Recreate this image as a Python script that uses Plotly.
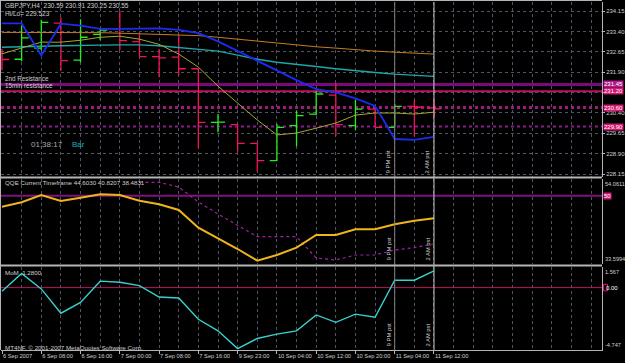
import plotly.graph_objects as go

# ---------------- data ----------------
bars = list(range(23))
xlabel_idx = [0, 2, 4, 6, 8, 10, 12, 14, 16, 18, 20, 22]
xlabel_txt = ["6 Sep 2007", "6 Sep 08:00", "6 Sep 16:00", "7 Sep 00:00", "7 Sep 08:00",
              "7 Sep 16:00", "9 Sep 23:00", "10 Sep 04:00", "10 Sep 12:00", "10 Sep 20:00",
              "11 Sep 04:00", "11 Sep 12:00"]

opens = [232.60, 232.38, 232.79, 233.71, 232.35, 233.30, 233.50, 233.03, 232.48, 232.46, 232.03,
         230.05, 229.97, 229.28, 228.64, 229.93, 230.36, 231.06, 229.93, 230.54, 229.87, 230.64, 230.59]
highs = [232.76, 233.63, 233.83, 233.93, 233.85, 233.52, 234.17, 233.29, 232.76, 233.26, 232.05,
         230.36, 229.99, 229.29, 229.99, 230.48, 231.21, 231.50, 230.89, 230.58, 230.73, 230.88, 230.91]
lows = [231.97, 232.31, 232.71, 231.96, 232.27, 233.08, 232.72, 232.48, 231.72, 231.79, 229.11,
        229.69, 228.97, 228.24, 228.63, 229.17, 230.32, 229.54, 229.78, 229.87, 229.87, 229.54, 230.25]
closes = [232.37, 233.17, 233.74, 232.33, 233.19, 233.45, 233.07, 232.48, 232.43, 232.03, 230.05,
          230.06, 229.28, 228.64, 229.87, 230.30, 231.10, 229.97, 230.54, 229.87, 230.64, 230.61, 230.55]

ma_blue = [233.70, 233.70, 232.52, 233.69, 233.62, 233.50, 233.50, 233.52, 233.52, 233.46, 233.34,
           233.04, 232.68, 232.31, 231.94, 231.61, 231.28, 231.16, 230.94, 230.66, 229.44, 229.41, 229.52]
ma_orange = [233.37, 233.37, 233.37, 233.37, 233.36, 233.36, 233.34, 233.32, 233.31, 233.28, 233.25,
             233.19, 233.12, 233.04, 232.97, 232.90, 232.84, 232.79, 232.73, 232.68, 232.64, 232.60, 232.57]
ma_teal = [232.82, 232.83, 232.86, 232.88, 232.90, 232.90, 232.91, 232.91, 232.88, 232.82, 232.75,
           232.68, 232.53, 232.38, 232.27, 232.20, 232.11, 232.03, 231.95, 231.89, 231.83, 231.78, 231.75]
ma_olive = [232.58, 232.79, 233.01, 233.01, 233.08, 233.19, 233.23, 233.12, 232.93, 232.57, 232.09,
            231.39, 230.76, 230.14, 229.59, 229.66, 229.84, 230.03, 230.32, 230.40, 230.40, 230.36, 230.43]

price_ticks = [234.15, 233.40, 232.65, 231.90, 231.15, 230.40, 229.65, 228.90, 228.15]
price_ticktext = ["234.15", "233.40", "232.65", "231.90", "", "230.40", "229.65", "228.90", "228.15"]
levels = [231.45, 231.20, 230.60, 229.90]
level_names = ["2nd Resistance", "15min resistance", "", ""]
level_colors = ["#7a0a7a", "#c01060", "#a01880", "#8c1a8c"]
level_widths = [3, 2, 3, 2]
level_dash = ["solid", "solid", "dot", "dot"]
level_box = ["#b0188a", "#d01870", "#d01870", "#d01870"]

qqe_main = [47.39, 48.45, 50.21, 48.77, 49.56, 50.38, 50.21, 48.84, 47.97, 46.60, 42.34,
            39.79, 37.21, 34.40, 35.77, 37.53, 40.58, 40.58, 41.95, 41.95, 43.16, 44.02, 44.60]
qqe_trail = [None, None, None, None, None, None, None, 53.27, 53.27, 52.13, 48.52,
             45.64, 42.87, 40.17, 40.17, 40.17, 35.05, 34.57, 35.77, 35.77, 36.97, 37.53, 38.48]
qqe_range = [33.5994, 54.0611]
qqe_level = 50

mom = [-0.28, 1.08, -0.10, -1.95, -1.13, 0.49, 0.41, 0.15, -0.72, -0.79, -2.41,
       -3.29, -4.64, -3.87, -3.54, -3.29, -2.08, -2.64, -2.02, -2.26, 0.56, 0.56, 1.28]
mom_range = [-4.747, 1.567]
mom_level = 0

vlines = [(20, "9 PM pst", "#808080"), (22, "2 AM pst", "#c8c8c8")]

# ---------------- layout helpers ----------------
W, H = 625, 363
def px(x): return x / W
def py(y): return 1 - y / H

main_dom = [py(177), py(2)]
qqe_dom = [py(264), py(179)]
mom_dom = [py(350), py(267)]
x_dom = [px(1), px(602)]
xr = [-0.051, 30.556]

FONT = "Liberation Sans, Arial, sans-serif"
TXT = "#d0d0d0"
GRID = "#4e5466"
AX = 6
AXS = 5.6

fig = go.Figure()

fig.add_trace(go.Scatter(x=bars, y=ma_orange, mode="lines", line=dict(color="#c87a22", width=1),
                         xaxis="x", yaxis="y", hoverinfo="skip"))
fig.add_trace(go.Scatter(x=bars, y=ma_teal, mode="lines", line=dict(color="#1fa6a8", width=1.4),
                         xaxis="x", yaxis="y", hoverinfo="skip"))
fig.add_trace(go.Scatter(x=bars, y=ma_olive, mode="lines", line=dict(color="#a8a630", width=1),
                         xaxis="x", yaxis="y", hoverinfo="skip"))
fig.add_trace(go.Ohlc(x=bars, open=opens, high=highs, low=lows, close=closes,
                      increasing=dict(line=dict(color="#22ee22", width=1.3)),
                      decreasing=dict(line=dict(color="#f01458", width=1.3)),
                      tickwidth=0.36, xaxis="x", yaxis="y"))
fig.add_trace(go.Scatter(x=bars, y=ma_blue, mode="lines", line=dict(color="#1a2cf0", width=1.8),
                         xaxis="x", yaxis="y", hoverinfo="skip"))

fig.add_trace(go.Scatter(x=bars, y=qqe_trail, mode="lines", line=dict(color="#a41ea4", width=1.2, dash="dot"),
                         xaxis="x", yaxis="y2", hoverinfo="skip"))
fig.add_trace(go.Scatter(x=bars, y=qqe_main, mode="lines", line=dict(color="#f0b41c", width=2),
                         xaxis="x", yaxis="y2", hoverinfo="skip"))
fig.add_trace(go.Scatter(x=bars, y=mom, mode="lines", line=dict(color="#3ad0cc", width=1.4),
                         xaxis="x", yaxis="y3", hoverinfo="skip"))

shapes = []
annotations = []

# horizontal levels (main)
for lv, nm, c, w, d, bc in zip(levels, level_names, level_colors, level_widths, level_dash, level_box):
    shapes.append(dict(type="line", xref="x domain", yref="y", x0=0, x1=1, y0=lv, y1=lv,
                       line=dict(color=c, width=w, dash=d), layer="below"))
    if nm:
        annotations.append(dict(text=nm, xref="paper", yref="y", x=px(3), y=lv, xanchor="left",
                                yanchor="bottom", yshift=0, showarrow=False,
                                font=dict(size=6.3, color=TXT, family=FONT)))
    annotations.append(dict(text=f"{lv:.2f}", xref="paper", yref="y", x=px(603), y=lv, xanchor="left",
                            yanchor="middle", showarrow=False, bgcolor=bc, borderpad=0,
                            font=dict(size=AX, color="#ffffff", family=FONT)))

# QQE 50 level
shapes.append(dict(type="line", xref="x domain", yref="y2", x0=0, x1=1, y0=qqe_level, y1=qqe_level,
                   line=dict(color="#80107e", width=2), layer="below"))
annotations.append(dict(text=str(qqe_level), xref="paper", yref="y2", x=px(603), y=qqe_level, xanchor="left",
                        yanchor="middle", showarrow=False, bgcolor="#d01870", borderpad=0,
                        font=dict(size=AX, color="#ffffff", family=FONT)))
# MoM 0 level
shapes.append(dict(type="line", xref="x domain", yref="y3", x0=0, x1=1, y0=mom_level, y1=mom_level,
                   line=dict(color="#c0105a", width=1), layer="below"))
annotations.append(dict(text="0.00", xref="paper", yref="y3", x=px(604), y=mom_level, xanchor="left",
                        yanchor="middle", showarrow=False,
                        font=dict(size=AX, color="#ffffff", family=FONT)))
shapes.append(dict(type="rect", xref="paper", yref="y3", x0=px(603.5), x1=px(607.5),
                   y0=mom_level - 0.25, y1=mom_level + 0.25, line=dict(color="#e01870", width=1)))

# panel scale labels (QQE / MoM)
for yref, rng in (("y2", qqe_range), ("y3", mom_range)):
    fmt = "{:.4f}" if yref == "y2" else "{:.3f}"
    annotations.append(dict(text=fmt.format(rng[1]), xref="paper", yref=yref + " domain", x=px(603), y=1,
                            xanchor="left", yanchor="top", showarrow=False,
                            font=dict(size=AXS, color=TXT, family=FONT)))
    annotations.append(dict(text=fmt.format(rng[0]), xref="paper", yref=yref + " domain", x=px(603), y=0,
                            xanchor="left", yanchor="bottom", showarrow=False,
                            font=dict(size=AXS, color=TXT, family=FONT)))

# vertical event lines
for xi, lab, col in vlines:
    shapes.append(dict(type="line", xref="x", yref="paper", x0=xi, x1=xi, y0=mom_dom[0], y1=main_dom[1],
                       line=dict(color=col, width=1)))
    for yr in ("y", "y2", "y3"):
        annotations.append(dict(text=lab, xref="x", yref=yr + " domain", x=xi, y=0, xanchor="right",
                                yanchor="bottom", xshift=-1, yshift=2, textangle=-90, showarrow=False,
                                font=dict(size=5.8, color=TXT, family=FONT)))

# frame / separators
frame_col = "#b4b4b4"
for yy in (177.5, 265.5):
    shapes.append(dict(type="line", xref="paper", yref="paper", x0=0, x1=px(602), y0=py(yy), y1=py(yy),
                       line=dict(color=frame_col, width=2)))
shapes.append(dict(type="line", xref="paper", yref="paper", x0=0, x1=px(602), y0=py(0.5), y1=py(0.5),
                   line=dict(color=frame_col, width=1)))
shapes.append(dict(type="line", xref="paper", yref="paper", x0=px(0.5), x1=px(0.5), y0=py(350), y1=py(0),
                   line=dict(color=frame_col, width=1)))

# texts
def txt(s, x, y, size=6.5, color=TXT):
    annotations.append(dict(text=s, xref="paper", yref="paper", x=px(x), y=py(y), xanchor="left",
                            yanchor="middle", showarrow=False, font=dict(size=size, color=color, family=FONT)))

txt("GBPJPY,H4  230.59 230.91 230.25 230.55", 3, 5)
txt("Hi/Lo= 229.523", 3, 13)
txt("01:38:17", 29, 144, size=8, color="#a8a8a8")
txt("Bar", 70, 144, size=8, color="#10b8c0")
txt("QQE Current Timeframe 44.6030 40.8207 38.4831", 3, 182.5, size=6.2)
txt("MoM  1.2800", 3, 272.5, size=6.2)
txt("MT4NF, © 2001-2007 MetaQuotes Software Corp.", 3, 347, size=6.2)

fig.update_layout(
    width=W, height=H, margin=dict(l=0, r=0, t=0, b=0),
    paper_bgcolor="#000000", plot_bgcolor="#000000", showlegend=False,
    font=dict(family=FONT, size=6.5, color=TXT),
    xaxis=dict(domain=x_dom, range=xr, anchor="y3", tickvals=xlabel_idx, ticktext=xlabel_txt,
               tickangle=0, ticks="outside", ticklen=3, tickcolor=frame_col, ticklabelposition="outside right",
               tickfont=dict(size=5.7, color=TXT, family=FONT),
               showgrid=True, gridcolor=GRID, griddash="3px,3px", gridwidth=1,
               minor=dict(dtick=1, tick0=0, showgrid=True, gridcolor=GRID, griddash="3px,3px", ticks=""),
               showline=True, linecolor=frame_col, linewidth=1, zeroline=False,
               rangeslider=dict(visible=False), fixedrange=True),
    yaxis=dict(domain=main_dom, range=[228.04, 234.49], side="right", anchor="x",
               tickvals=price_ticks, ticktext=price_ticktext,
               ticks="outside", ticklen=2, tickcolor=frame_col,
               tickfont=dict(size=AX, color=TXT, family=FONT),
               showgrid=True, gridcolor=GRID, griddash="3px,3px", zeroline=False,
               showline=True, linecolor=frame_col, linewidth=1),
    yaxis2=dict(domain=qqe_dom, range=qqe_range, side="right", anchor="x", showticklabels=False,
                ticks="", showgrid=False, zeroline=False, showline=True, linecolor=frame_col, linewidth=1),
    yaxis3=dict(domain=mom_dom, range=mom_range, side="right", anchor="x", showticklabels=False,
                ticks="", showgrid=False, zeroline=False, showline=True, linecolor=frame_col, linewidth=1),
    shapes=shapes, annotations=annotations,
)

fig.write_html("out.html")
